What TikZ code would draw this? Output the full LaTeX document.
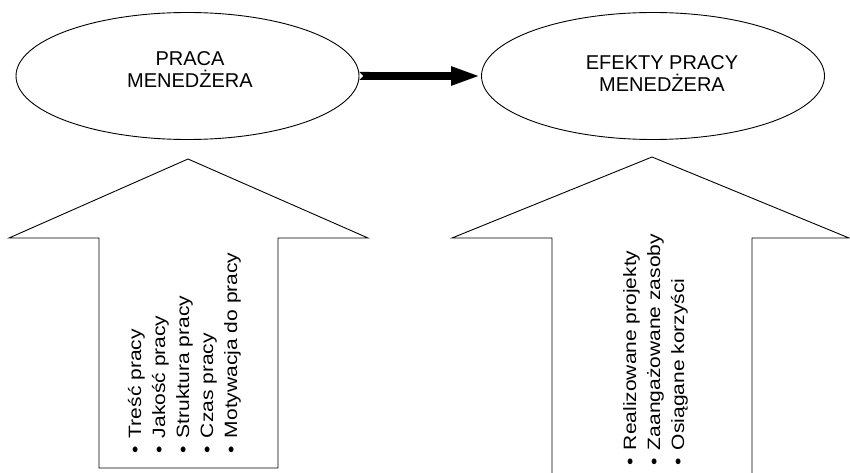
\documentclass[tikz,border=0pt]{standalone}
\usepackage{fontspec}
\setmainfont{Liberation Sans}
\usepackage{graphicx}
\usetikzlibrary{shapes.geometric,arrows.meta}

\begin{document}
\begin{tikzpicture}[x=1pt,y=-1pt,
    oval/.style={ellipse,draw,line width=0.9pt,minimum width=343pt,minimum height=127pt,inner sep=0pt},
    tytul/.style={align=center,inner sep=0pt,font=\fontsize{20}{22}\selectfont},
    item/.style={rotate=90,anchor=base west,inner sep=0pt,font=\fontsize{21}{24}\selectfont},
    bigarrow/.style={line width=0.9pt,line join=miter},
    strzalka/.style={line width=8pt,{Triangle Cap[reversed]}-{Triangle[length=30pt,width=17pt]}}]
  \useasboundingbox (0,0) rectangle (850,473);
  \node[oval] (praca) at (187.5,76) {};
  \node[oval] (efekty) at (653,76) {};
  \node[tytul] (tpraca) at ([shift={(2.5,-6)}]praca.center) {PRACA\\MENEDŻERA};
  \node[tytul] (tefekty) at ([shift={(9,-2)}]efekty.center) {EFEKTY PRACY\\MENEDŻERA};
  \draw[strzalka] (praca) -- (efekty);
  % lewa strzalka
  \draw[bigarrow] (99,468) -- (99,238) -- (9,238) -- (188,159) -- (368,238)
    -- (278,238) -- (278,468) -- cycle;
  % prawa strzalka, obcieta u dolu
  \draw[bigarrow] (552,474) -- (552,238) -- (452,238) -- (652,157) -- (849,238)
    -- (752,238) -- (752,474);
  \foreach \t [count=\i from 0] in {Treść pracy,Jakość pracy,Struktura pracy,Czas pracy,Motywacja do pracy}
    \node[item] (praca\i) at ({141+24*\i},454) {\scalebox{1}[0.85]{\textbullet\hspace{0.4em}\t}};
  \foreach \t [count=\i from 0] in {Realizowane projekty,Zaangażowane zasoby,Osiągane korzyści}
    \node[item] (efekt\i) at ({636+24*\i},466) {\scalebox{1}[0.85]{\textbullet\hspace{0.4em}\t}};
\end{tikzpicture}
\end{document}
